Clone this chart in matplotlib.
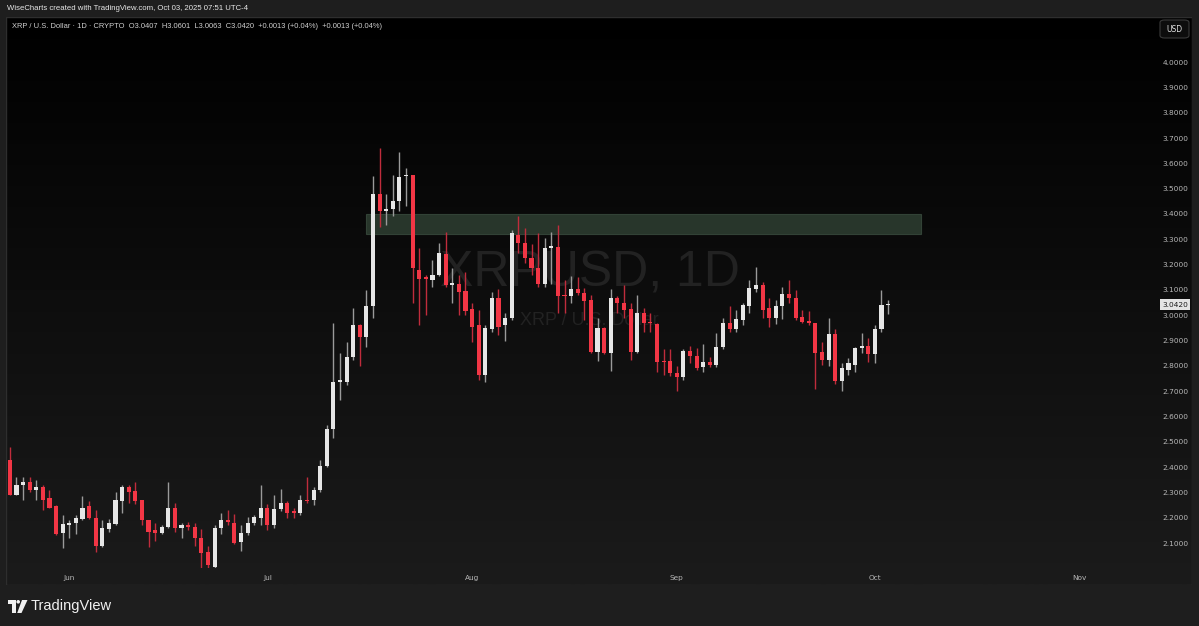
import matplotlib
matplotlib.use("Agg")
import matplotlib.pyplot as plt
import matplotlib.dates as mdates
from matplotlib.patches import Rectangle, FancyBboxPatch, Polygon, Circle
import numpy as np
import pandas as pd

# XRP / USD daily, 2025-05-23 .. 2025-10-03
start = "2025-05-23"
opens = [2.43, 2.29, 2.33, 2.34, 2.31, 2.32, 2.28, 2.245, 2.14, 2.17,
         2.18, 2.195, 2.245, 2.20, 2.09, 2.155, 2.175, 2.265, 2.32, 2.305,
         2.27, 2.19, 2.15, 2.14, 2.165, 2.24, 2.16, 2.17, 2.165, 2.12,
         2.065, 2.005, 2.16, 2.19, 2.18, 2.105, 2.14, 2.18, 2.20, 2.24,
         2.17, 2.235, 2.26, 2.225, 2.22, 2.27, 2.27, 2.31, 2.405, 2.55,
         2.735, 2.735, 2.835, 2.96, 2.915, 3.035, 3.48, 3.41, 3.42, 3.45,
         3.55, 3.555, 3.18, 3.15, 3.14, 3.16, 3.24, 3.12, 3.125, 3.095,
         3.025, 2.96, 2.765, 2.945, 3.07, 2.96, 2.99, 3.315, 3.285, 3.225,
         3.185, 3.125, 3.265, 3.27, 3.08, 3.075, 3.105, 3.088, 3.06, 2.855,
         2.95, 2.85, 3.07, 3.048, 3.025, 2.855, 3.01, 2.975, 2.965, 2.82,
         2.82, 2.77, 2.755, 2.86, 2.84, 2.795, 2.815, 2.805, 2.875, 2.97,
         2.945, 2.98, 3.037, 3.105, 3.12, 3.03, 2.99, 3.035, 3.085, 3.07,
         2.995, 2.978, 2.97, 2.855, 2.825, 2.925, 2.74, 2.785, 2.805, 2.87,
         2.88, 2.845, 2.945, 3.0407]
highs = [2.48, 2.36, 2.36, 2.36, 2.35, 2.33, 2.31, 2.25, 2.21, 2.19,
         2.21, 2.285, 2.265, 2.23, 2.19, 2.195, 2.30, 2.33, 2.33, 2.34,
         2.27, 2.19, 2.18, 2.17, 2.34, 2.26, 2.18, 2.185, 2.18, 2.155,
         2.09, 2.17, 2.22, 2.23, 2.215, 2.17, 2.205, 2.21, 2.33, 2.255,
         2.29, 2.315, 2.265, 2.24, 2.29, 2.36, 2.32, 2.43, 2.565, 2.97,
         2.85, 2.895, 3.03, 2.965, 3.10, 3.55, 3.66, 3.48, 3.555, 3.645,
         3.58, 3.555, 3.265, 3.16, 3.22, 3.285, 3.33, 3.185, 3.16, 3.17,
         3.05, 3.02, 2.96, 3.09, 3.105, 3.01, 3.335, 3.39, 3.345, 3.28,
         3.325, 3.305, 3.33, 3.355, 3.14, 3.155, 3.15, 3.107, 3.08, 2.99,
         2.955, 3.105, 3.075, 3.12, 3.05, 3.08, 3.03, 3.01, 2.97, 2.865,
         2.865, 2.80, 2.865, 2.88, 2.87, 2.885, 2.835, 2.93, 2.99, 3.035,
         3.02, 3.05, 3.14, 3.19, 3.13, 3.07, 3.06, 3.11, 3.14, 3.10,
         3.02, 3.015, 2.97, 2.895, 2.99, 2.945, 2.81, 2.83, 2.875, 2.93,
         2.91, 2.96, 3.10, 3.0601]
lows = [2.29, 2.29, 2.27, 2.30, 2.27, 2.23, 2.24, 2.13, 2.08, 2.12,
        2.135, 2.19, 2.195, 2.065, 2.085, 2.145, 2.17, 2.22, 2.26, 2.255,
        2.17, 2.085, 2.11, 2.135, 2.16, 2.145, 2.12, 2.15, 2.09, 2.00,
        2.00, 1.995, 2.135, 2.17, 2.095, 2.07, 2.13, 2.17, 2.17, 2.15,
        2.16, 2.225, 2.20, 2.20, 2.21, 2.26, 2.25, 2.30, 2.40, 2.515,
        2.665, 2.725, 2.825, 2.80, 2.875, 2.99, 3.35, 3.355, 3.39, 3.41,
        3.43, 3.05, 2.96, 3.00, 3.11, 3.155, 3.11, 3.05, 3.00, 3.00,
        2.895, 2.745, 2.735, 2.935, 2.92, 2.90, 2.98, 3.245, 3.205, 3.16,
        3.11, 3.11, 3.125, 3.01, 3.01, 3.05, 3.08, 2.98, 2.85, 2.82,
        2.845, 2.78, 3.01, 2.99, 2.825, 2.85, 2.935, 2.935, 2.775, 2.765,
        2.76, 2.70, 2.745, 2.81, 2.785, 2.775, 2.795, 2.795, 2.865, 2.935,
        2.935, 2.96, 3.01, 3.09, 2.99, 2.955, 2.965, 2.985, 3.05, 2.98,
        2.97, 2.96, 2.71, 2.805, 2.80, 2.73, 2.70, 2.765, 2.775, 2.85,
        2.815, 2.81, 2.935, 3.0063]
closes = [2.29, 2.33, 2.34, 2.31, 2.32, 2.27, 2.24, 2.135, 2.175, 2.18,
          2.20, 2.24, 2.20, 2.09, 2.16, 2.18, 2.27, 2.32, 2.30, 2.265,
          2.19, 2.145, 2.14, 2.165, 2.24, 2.16, 2.17, 2.165, 2.12, 2.06,
          2.015, 2.16, 2.19, 2.183, 2.10, 2.14, 2.18, 2.205, 2.24, 2.17,
          2.235, 2.26, 2.22, 2.22, 2.27, 2.265, 2.31, 2.405, 2.55, 2.735,
          2.745, 2.835, 2.96, 2.915, 3.035, 3.48, 3.41, 3.42, 3.45, 3.545,
          3.555, 3.185, 3.145, 3.145, 3.16, 3.245, 3.12, 3.127, 3.09, 3.015,
          2.955, 2.765, 2.95, 3.07, 2.955, 2.99, 3.325, 3.285, 3.225, 3.185,
          3.125, 3.265, 3.275, 3.075, 3.075, 3.105, 3.088, 3.056, 2.855, 2.95,
          2.85, 3.07, 3.048, 3.02, 2.855, 3.01, 2.97, 2.97, 2.815, 2.815,
          2.77, 2.755, 2.86, 2.84, 2.79, 2.815, 2.805, 2.875, 2.97, 2.945,
          2.985, 3.04, 3.107, 3.12, 3.02, 2.99, 3.035, 3.085, 3.07, 2.99,
          2.975, 2.97, 2.85, 2.825, 2.925, 2.74, 2.79, 2.81, 2.87, 2.88,
          2.845, 2.945, 3.04, 3.0420]

zone_low, zone_high = 3.32, 3.40
zone_start, zone_end = "2025-07-16", "2025-10-08"
price_ticks = [2.1, 2.2, 2.3, 2.4, 2.5, 2.6, 2.7, 2.8, 2.9, 3.0,
               3.1, 3.2, 3.3, 3.4, 3.5, 3.6, 3.7, 3.8, 3.9, 4.0]
month_ticks = ["2025-06-01", "2025-07-01", "2025-08-01", "2025-09-01",
               "2025-10-01", "2025-11-01"]
month_labels = ["Jun", "Jul", "Aug", "Sep", "Oct", "Nov"]
last_price = 3.0420

W, H = 1199, 626
fig = plt.figure(figsize=(W / 100, H / 100), dpi=100)
fig.patch.set_facecolor("#1e1e1e")

# pane background: black at top fading to dark grey at bottom
bg = fig.add_axes([6 / W, 1 - 585 / H, (1192 - 6) / W, (585 - 17) / H])
grad = np.linspace(0, 1, 256).reshape(-1, 1)
bg.imshow(grad, aspect="auto", cmap=matplotlib.colors.LinearSegmentedColormap.from_list(
    "g", ["#000000", "#1b1b1b"]), extent=[0, 1, 0, 1], origin="upper")
bg.set_xlim(0, 1); bg.set_ylim(0, 1)
bg.axis("off")
bg.add_patch(Rectangle((0, 0), 1, 1, fill=False, ec="#2e2e2e", lw=1))

ax = fig.add_axes([6 / W, 1 - 568 / H, (1150 - 6) / W, (568 - 17) / H])
ax.patch.set_alpha(0)

dates = pd.date_range(start, periods=len(opens), freq="D")
x = mdates.date2num(dates)
o = np.array(opens); h = np.array(highs); l = np.array(lows); c = np.array(closes)
up = c >= o

# watermark
ax.text(0.51, 0.535, "XRPUSD, 1D", transform=ax.transAxes, ha="center", va="center",
        fontsize=36, color="#222222", family="Liberation Sans", zorder=0)
ax.text(0.51, 0.45, "XRP / U.S. Dollar", transform=ax.transAxes, ha="center",
        va="center", fontsize=13, color="#222222", family="Liberation Sans", zorder=0)

# supply zone
z0, z1 = mdates.date2num(pd.Timestamp(zone_start)), mdates.date2num(pd.Timestamp(zone_end))
ax.add_patch(Rectangle((z0, zone_low), z1 - z0, zone_high - zone_low,
                       fc="#28362b", ec="#324236", lw=0.8, zorder=1))

body_w = 0.62
red, white = "#f23645", "#e6e6e6"
ax.vlines(x[up], l[up], h[up], color="#9a9a9a", lw=1.0, zorder=2)
ax.vlines(x[~up], l[~up], h[~up], color="#c02c3c", lw=1.0, zorder=2)
heights = np.maximum(np.abs(c - o), 0.004)
ax.bar(x[up], heights[up], bottom=np.minimum(o, c)[up], width=body_w,
       color=white, lw=0, zorder=3)
ax.bar(x[~up], heights[~up], bottom=np.minimum(o, c)[~up], width=body_w,
       color=red, lw=0, zorder=3)

ax.set_xlim(mdates.date2num(pd.Timestamp("2025-05-22 10:00")),
            mdates.date2num(pd.Timestamp("2025-11-11 16:00")))
ax.set_ylim(2.0016, 4.178)

ax.yaxis.tick_right()
ax.set_yticks(price_ticks)
ax.set_yticklabels(["%.4f" % p for p in price_ticks])
ax.set_xticks(mdates.date2num(pd.to_datetime(month_ticks)))
ax.set_xticklabels(month_labels)
ax.tick_params(axis="y", length=0, pad=9, labelsize=5.3, labelcolor="#b8b8b8")
ax.tick_params(axis="x", length=0, pad=5, labelsize=5.3, labelcolor="#b8b8b8")
for s in ax.spines.values():
    s.set_visible(False)

# last price label
ax.text(1.0105, last_price, "%.4f" % last_price, transform=ax.get_yaxis_transform(),
        ha="left", va="center", fontsize=5.3, color="#1a1a1a",
        bbox=dict(boxstyle="square,pad=0.3", fc="#e4e4e4", ec="none"))

# USD button
fig.patches.append(FancyBboxPatch((1160 / W, 1 - 38 / H), 29 / W, 18 / H,
                                  boxstyle="round,pad=0,rounding_size=0.004",
                                  transform=fig.transFigure, fc="#0d0d0d",
                                  ec="#3a3a3a", lw=0.8))
fig.text(1174.5 / W, 1 - 29 / H, "USD", ha="center", va="center", fontsize=5.5,
         color="#e0e0e0")

# header lines
fig.text(7 / W, 1 - 9 / H, "WiseCharts created with TradingView.com, Oct 03, 2025 07:51 UTC-4",
         ha="left", va="center", fontsize=5.6, color="#e8e8e8", family="Liberation Sans")
fig.text(12 / W, 1 - 27 / H,
         "XRP / U.S. Dollar · 1D · CRYPTO  O3.0407  H3.0601  L3.0063  C3.0420  "
         "+0.0013 (+0.04%)  +0.0013 (+0.04%)",
         ha="left", va="center", fontsize=5.4, color="#d0d0d0", family="Liberation Sans")

# TradingView logo + wordmark
logo = fig.add_axes([8 / W, 1 - 613 / H, 20 / W, 13 / H])
logo.set_xlim(0, 20); logo.set_ylim(0, 13); logo.axis("off")
logo.add_patch(Polygon([[0, 13], [7.5, 13], [7.5, 0], [4, 0], [4, 9.5], [0, 9.5]],
                       fc="#f0f0f0", ec="none"))
logo.add_patch(Circle((10.2, 11.2), 1.8, fc="#f0f0f0", ec="none"))
logo.add_patch(Polygon([[14, 13], [19.5, 13], [13.5, 0], [9.2, 0]], fc="#f0f0f0", ec="none"))
fig.text(31 / W, 1 - 606 / H, "TradingView", ha="left", va="center", fontsize=10.5,
         color="#f0f0f0", family="Liberation Sans")

fig.savefig("out.png", dpi=100, facecolor=fig.get_facecolor())
